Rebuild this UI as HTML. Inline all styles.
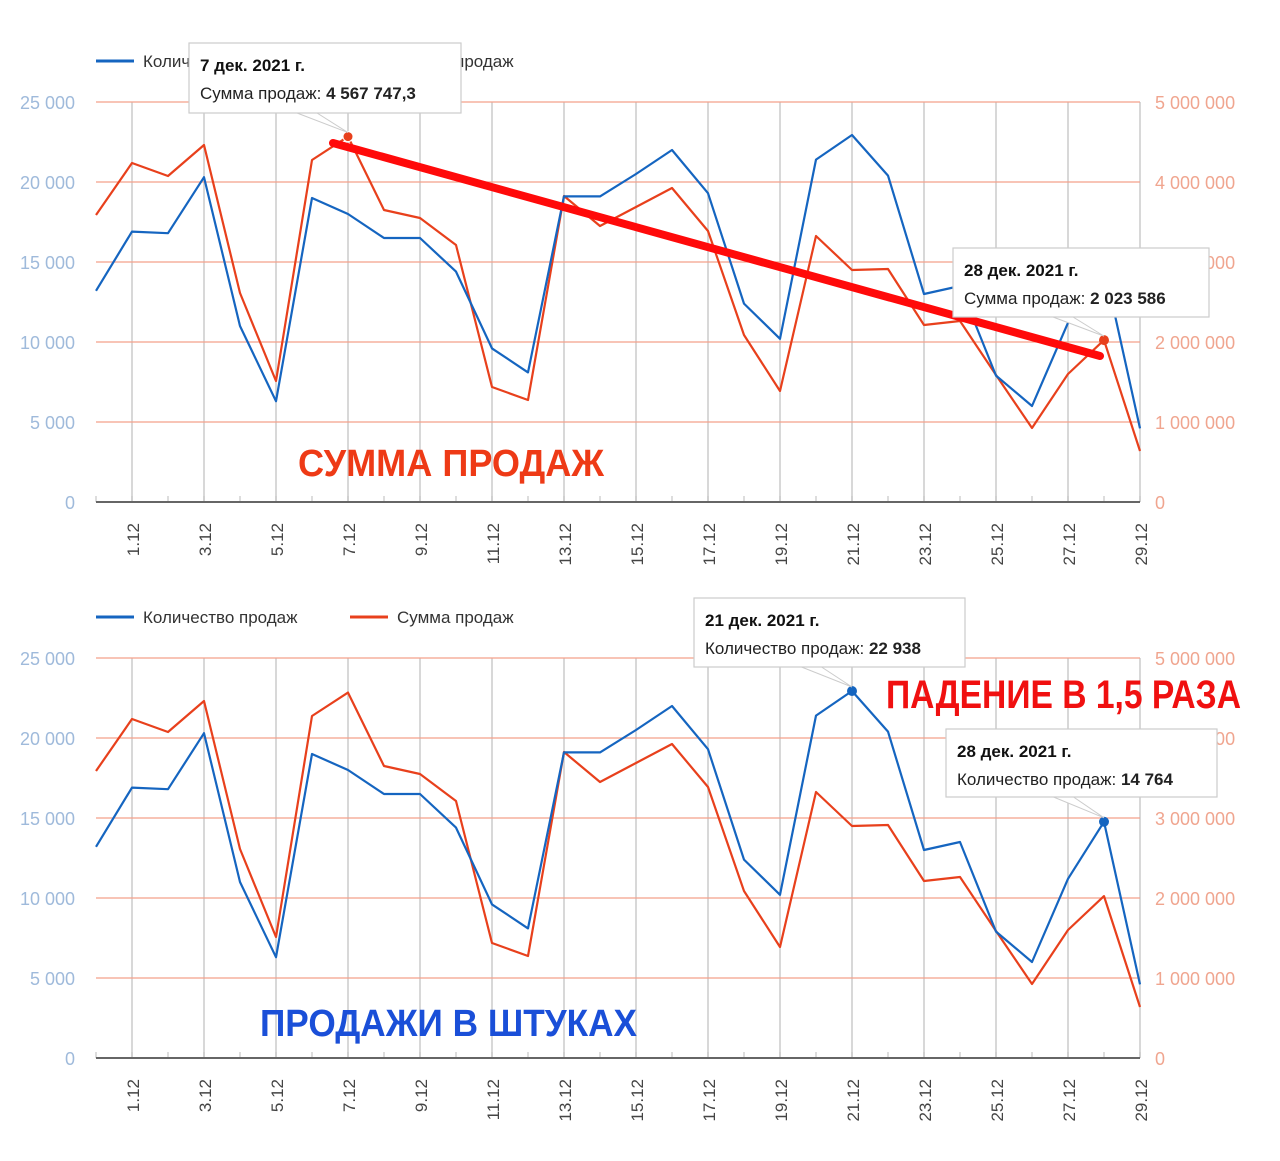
<!DOCTYPE html>
<html><head><meta charset="utf-8"><style>
html,body{margin:0;padding:0;background:#fff;width:1280px;height:1161px;overflow:hidden}
svg{display:block;font-family:"Liberation Sans",Arial,sans-serif}
</style></head><body>
<svg id="s" width="1280" height="1161" viewBox="0 0 1280 1161"></svg>
<script>
const dates=['30.11','1.12','2.12','3.12','4.12','5.12','6.12','7.12','8.12','9.12','10.12','11.12','12.12','13.12','14.12','15.12','16.12','17.12','18.12','19.12','20.12','21.12','22.12','23.12','24.12','25.12','26.12','27.12','28.12','29.12'];
const countValues=[13200,16900,16800,20300,11000,6300,19000,18000,16500,16500,14400,9600,8100,19100,19100,20500,22000,19300,12400,10200,21400,22938,20400,13000,13500,7900,6000,11200,14764,4600];
const sumValues=[3587500,4237500,4075000,4462500,2612500,1512500,4275000,4567747,3650000,3550000,3212500,1437500,1275000,3825000,3450000,3687500,3925000,3387500,2087500,1387500,3325000,2900000,2912500,2212500,2262500,1587500,925000,1600000,2023586,637500];
const leftTicks=[0,5000,10000,15000,20000,25000];
const rightTicks=[0,1000000,2000000,3000000,4000000,5000000];
const NS='http://www.w3.org/2000/svg';
const svg=document.getElementById('s');
function mk(tag,attrs,parent,text){const e=document.createElementNS(NS,tag);for(const k in attrs)e.setAttribute(k,attrs[k]);if(text!==undefined)e.textContent=text;(parent||svg).appendChild(e);return e;}
function fmt(v){return String(v).replace(/\B(?=(\d{3})+(?!\d))/g,' ');}
const X0=96,DX=36;
function xS(i){return X0+i*DX;}
function chart(top,name){
  const g=mk('g',{});
  
  
  const base=top+400;
  const yL=v=>base-v/25000*400, yR=v=>base-v/5000000*400;
  // legend
  const lg=mk('g',{},g);
  
  
  mk('line',{x1:96,x2:134,y1:top-41,y2:top-41,stroke:'#1565c0','stroke-width':3},lg);
  mk('text',{x:143,y:top-35,'font-size':17,fill:'#333'},lg,'Количество продаж');
  mk('line',{x1:350,x2:388,y1:top-41,y2:top-41,stroke:'#e8401c','stroke-width':3},lg);
  mk('text',{x:397,y:top-35,'font-size':17,fill:'#333'},lg,'Сумма продаж');
  // vertical grid
  dates.forEach((d,i)=>{
    if(i%2===1){const l=mk('line',{x1:xS(i),x2:xS(i),y1:top,y2:base,stroke:'#ccc','stroke-width':1.5},g);
      }
    mk('line',{x1:xS(i),x2:xS(i),y1:base-6,y2:base,stroke:'#bbb'},g);
  });
  leftTicks.forEach((v,i)=>{
    if(v>0)mk('line',{x1:96,x2:1140,y1:yL(v),y2:yL(v),stroke:'#f4a08a','stroke-width':1.3},g);
    const t=mk('text',{x:75,y:yL(v)+7,'font-size':18,fill:'#9fbadb','text-anchor':'end'},g,fmt(v));
    
  });
  rightTicks.forEach(v=>{
    const t=mk('text',{x:1155,y:yR(v)+7,'font-size':18,fill:'#f0a58f'},g,fmt(v));
    
  });
  mk('line',{x1:96,x2:1140,y1:base,y2:base,stroke:'#666','stroke-width':2},g);
  dates.forEach((d,i)=>{
    if(i%2===1){const t=mk('text',{transform:`translate(${xS(i)+7},${base+21}) rotate(-90)`,'font-size':17,fill:'#444','text-anchor':'end'},g,d);
      }
  });
  const sp=mk('polyline',{points:sumValues.map((v,i)=>xS(i)+','+yR(v)).join(' '),fill:'none',stroke:'#e8401c','stroke-width':2.2,'stroke-linejoin':'round'},g);
  
  const cp=mk('polyline',{points:countValues.map((v,i)=>xS(i)+','+yL(v)).join(' '),fill:'none',stroke:'#1565c0','stroke-width':2.2,'stroke-linejoin':'round'},g);
  
  return {g,yL,yR};
}
function tooltip(x,y,w,h,title,label,val,px,py,parent){
  const t=mk('g',{},parent);
  
  
  mk('polygon',{points:`${x+w/2-28},${y+h} ${px},${py} ${x+w/2-8},${y+h}`,fill:'#fff',stroke:'#ccc'},t);
  mk('rect',{x:x,y:y,width:w,height:h,fill:'#fff',stroke:'#ccc','stroke-width':1.2},t);
  mk('text',{x:x+11,y:y+28,'font-size':17,'font-weight':'bold',fill:'#111'},t,title);
  const tx=mk('text',{x:x+11,y:y+56,'font-size':17,fill:'#222'},t);
  mk('tspan',{},tx,label+' ');
  mk('tspan',{'font-weight':'bold'},tx,val);
}
const c1=chart(102,'sum-chart');
const c2=chart(658,'count-chart');
// top chart annotations
const tl=mk('line',{x1:333,y1:143,x2:1100,y2:356,stroke:'#ff0a0a','stroke-width':8,'stroke-linecap':'round'});

mk('circle',{cx:xS(7),cy:c1.yR(sumValues[7]),r:5,fill:'#e8401c',stroke:'#fff','stroke-width':1});
mk('circle',{cx:xS(28),cy:c1.yR(sumValues[28]),r:5,fill:'#e8401c'});
tooltip(189,43,272,70,'7 дек. 2021 г.','Сумма продаж:','4 567 747,3',xS(7),c1.yR(sumValues[7])-4);
tooltip(953,248,256,69,'28 дек. 2021 г.','Сумма продаж:','2 023 586',xS(28),c1.yR(sumValues[28])-4);
mk('circle',{cx:xS(21),cy:c2.yL(countValues[21]),r:5,fill:'#1565c0'});
mk('circle',{cx:xS(28),cy:c2.yL(countValues[28]),r:5,fill:'#1565c0'});
tooltip(694,598,271,69,'21 дек. 2021 г.','Количество продаж:','22 938',xS(21),c2.yL(countValues[21])-4);
tooltip(946,729,271,68,'28 дек. 2021 г.','Количество продаж:','14 764',xS(28),c2.yL(countValues[28])-4);
let a=mk('text',{x:298,y:476,'font-size':38,'font-weight':'bold',fill:'#ee3a16',textLength:306,lengthAdjust:'spacingAndGlyphs'},svg,'СУММА ПРОДАЖ');

a=mk('text',{x:260,y:1036,'font-size':38,'font-weight':'bold',fill:'#1a4fd8',textLength:377,lengthAdjust:'spacingAndGlyphs'},svg,'ПРОДАЖИ В ШТУКАХ');

a=mk('text',{x:886,y:708,'font-size':40,'font-weight':'bold',fill:'#f01010',textLength:355,lengthAdjust:'spacingAndGlyphs'},svg,'ПАДЕНИЕ В 1,5 РАЗА');

</script>
</body></html>
